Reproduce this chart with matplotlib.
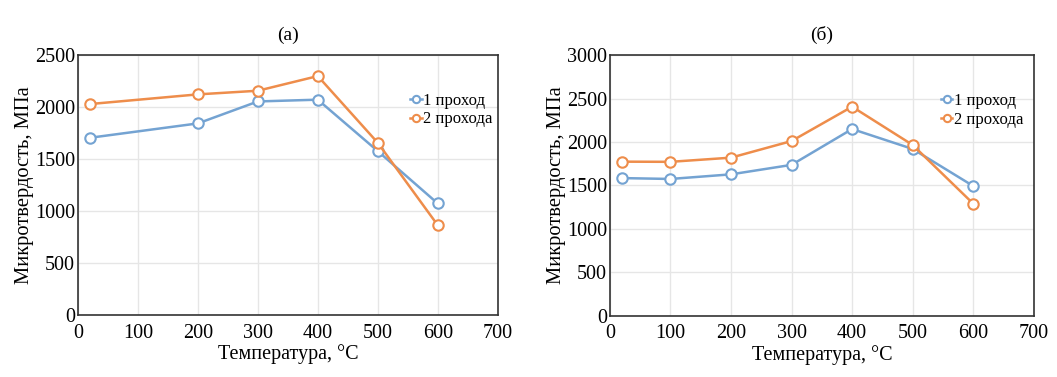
import matplotlib
matplotlib.use("Agg")
import matplotlib.pyplot as plt

plt.rcParams['font.family'] = ['Liberation Serif', 'DejaVu Serif']

# (а)
temp_a = [20, 200, 300, 400, 500, 600]
pass1_a = [1705, 1843, 2054, 2071, 1577, 1074]
pass2_a = [2029, 2122, 2157, 2298, 1657, 865]

# (б)
temp_b = [20, 100, 200, 300, 400, 500, 600]
pass1_b = [1585, 1575, 1628, 1737, 2149, 1920, 1494]
pass2_b = [1774, 1772, 1820, 2011, 2406, 1966, 1291]

labels = ["1 проход", "2 прохода"]
blue = "#74a3d2"
orange = "#ee8d4b"

fig = plt.figure(figsize=(10.57, 3.77), dpi=100)
ax1 = fig.add_axes([0.0738, 0.164, 0.397, 0.690])
ax2 = fig.add_axes([0.577, 0.162, 0.401, 0.692])


def draw(ax, x, y1, y2, ymax, title, leg_anchor):
    ax.plot(x, y1, color=blue, lw=1.8, marker="o", ms=7.5, mfc="white",
            mec=blue, mew=1.5, label=labels[0], zorder=3)
    ax.plot(x, y2, color=orange, lw=1.8, marker="o", ms=7.5, mfc="white",
            mec=orange, mew=1.5, label=labels[1], zorder=3)
    ax.set_xlim(0, 700)
    ax.set_ylim(0, ymax)
    ax.set_xticks(range(0, 701, 100))
    ax.set_yticks(range(0, ymax + 1, 500))
    ax.grid(True, color="#e6e6e6", lw=1)
    ax.set_axisbelow(True)
    ax.tick_params(axis="both", length=0, labelsize=14.5)
    ax.tick_params(axis="x", pad=6)
    ax.tick_params(axis="y", pad=2)
    for s in ax.spines.values():
        s.set_color("#333333")
        s.set_linewidth(1.2)
    ax.set_title(title, fontsize=14, pad=11)
    ax.set_xlabel("Температура, °C", fontsize=14.5, labelpad=1)
    ax.set_ylabel("Микротвердость, МПа", fontsize=14.8, labelpad=1)
    ax.legend(loc="upper left", bbox_to_anchor=leg_anchor, frameon=False,
              fontsize=12, handlelength=0.7, handletextpad=0.1,
              labelspacing=0.15, markerscale=0.7, borderaxespad=0)


draw(ax1, temp_a, pass1_a, pass2_a, 2500, "(a)", (0.775, 0.88))
draw(ax2, temp_b, pass1_b, pass2_b, 3000, "(б)", (0.765, 0.88))

plt.savefig("out.png", dpi=100)
